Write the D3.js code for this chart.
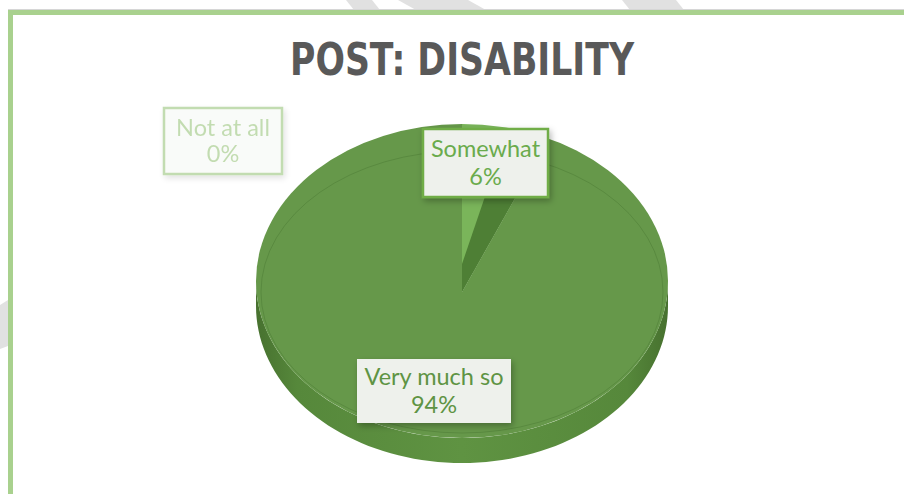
<!DOCTYPE html>
<html>
<head>
<meta charset="utf-8">
<script src="https://cdn.jsdelivr.net/npm/d3@7"></script>
<style>
  html, body { margin: 0; padding: 0; background: #ffffff; }
  svg { display: block; }
</style>
</head>
<body>
<svg id="chart" width="904" height="494"></svg>
<script>
// Survey answers for "POST: DISABILITY"
const categories = ["Not at all", "Somewhat", "Very much so"];
const values = [0, 6, 94];
const chartTitle = "POST: DISABILITY";

const W = 904, H = 494;
const svg = d3.select("#chart");
const defs = svg.append("defs");

// Faint grey diagonal bands behind the frame
const bandColor = "#e1e1e1";
[
  [[346, 0], [372, 0], [380, 10], [354, 10]],
  [[398, 0], [468, 0], [486, 10], [416, 10]],
  [[622, 0], [676, 0], [684, 10], [630, 10]],
  [[0, 305], [8, 300], [8, 346], [0, 349]]
].forEach(p => svg.append("polygon")
  .attr("points", p.map(d => d.join(",")).join(" "))
  .attr("fill", bandColor));

// Frame: thin grey rule, then green border on top and left
svg.append("line").attr("x1", 8).attr("x2", W).attr("y1", 9.5).attr("y2", 9.5)
  .attr("stroke", "#d6d6d6").attr("stroke-width", 1);
svg.append("rect").attr("x", 13).attr("y", 15).attr("width", W - 13).attr("height", H - 15)
  .attr("fill", "#ffffff");
svg.append("path")
  .attr("d", `M10.5,${H} L10.5,12.5 L${W},12.5`)
  .attr("fill", "none").attr("stroke", "#a9d18e").attr("stroke-width", 5);

// Title
svg.append("text")
  .attr("x", 462).attr("y", 75)
  .attr("text-anchor", "middle")
  .attr("font-family", "'Liberation Sans Narrow', 'DejaVu Sans Condensed', 'Liberation Sans', sans-serif")
  .attr("font-weight", "bold")
  .attr("font-size", 44)
  .attr("fill", "#595959")
  .attr("textLength", 344)
  .attr("lengthAdjust", "spacingAndGlyphs")
  .text(chartTitle);

// ---- 3D pie geometry ----
const hub = { x: 462, y: 292 };                 // centre of the slices
const inner = { cx: 462, cy: 292, rx: 201, ry: 141 };   // reference rim for angles
const outer = { cx: 462, cy: 281, rx: 206, ry: 157 };   // visible top outline
const depth = 25;

const sliceColors = ["#9bc97f", "#7ab55a", "#66984a"];
const faceColor = "#4e7f35";

const pie = d3.pie().sort(null).value(d => d).startAngle(0).endAngle(2 * Math.PI);
const arcs = pie(values);

// Point on an ellipse at angle a (clockwise from 12 o'clock)
const rimPt = (e, a, k = 1) => [e.cx + k * e.rx * Math.sin(a), e.cy - k * e.ry * Math.cos(a)];

// Clip for the top surface
defs.append("clipPath").attr("id", "topClip")
  .append("ellipse")
  .attr("cx", outer.cx).attr("cy", outer.cy).attr("rx", outer.rx).attr("ry", outer.ry);

// Side wall gradient
const sideGrad = defs.append("linearGradient").attr("id", "sideGrad")
  .attr("x1", "0").attr("x2", "1").attr("y1", "0").attr("y2", "0");
[[0, "#47712f"], [0.1, "#56883b"], [0.5, "#5f9342"], [0.9, "#56883b"], [1, "#47712f"]]
  .forEach(([o, c]) => sideGrad.append("stop").attr("offset", o).attr("stop-color", c));

// Side walls: only the front half (angles between 90° and 270°) is visible
const g = svg.append("g");
arcs.forEach((a, i) => {
  const lo = Math.max(a.startAngle, Math.PI / 2);
  const hi = Math.min(a.endAngle, 3 * Math.PI / 2);
  if (hi <= lo) return;
  const steps = 80;
  const top = d3.range(steps + 1).map(s => rimPt(outer, lo + (hi - lo) * s / steps));
  const bottom = top.map(([x, y]) => [x, y + depth]).reverse();
  g.append("path")
    .attr("d", d3.line()(top.concat(bottom)) + "Z")
    .attr("fill", "url(#sideGrad)");
});

// Top surfaces of the slices
const topG = g.append("g").attr("clip-path", "url(#topClip)");
arcs.forEach((a, i) => {
  if (a.endAngle - a.startAngle <= 0) return;
  const steps = Math.max(4, Math.ceil((a.endAngle - a.startAngle) / 0.02));
  const pts = [[hub.x, hub.y]];
  for (let s = 0; s <= steps; s++) {
    const ang = a.startAngle + (a.endAngle - a.startAngle) * s / steps;
    const [px, py] = rimPt(inner, ang);
    pts.push([hub.x + (px - hub.x) * 1.6, hub.y + (py - hub.y) * 1.6]);
  }
  topG.append("path")
    .attr("d", d3.line()(pts) + "Z")
    .attr("fill", sliceColors[i]);
});

// Cut face of the raised small slice along its trailing edge
arcs.forEach((a, i) => {
  const span = a.endAngle - a.startAngle;
  if (span <= 0 || span > Math.PI / 2) return;
  const mid = rimPt(inner, a.startAngle + span / 2);
  const end = rimPt(inner, a.endAngle);
  const base = [hub.x, hub.y - 28];
  const ext = (p, from) => [from[0] + (p[0] - from[0]) * 1.5, from[1] + (p[1] - from[1]) * 1.5];
  const face = [[hub.x, hub.y], base, ext(mid, base), ext(end, [hub.x, hub.y])];
  topG.append("path")
    .attr("d", d3.line()(face) + "Z")
    .attr("fill", faceColor);
});

// Thin inner rim line of the top surface
g.append("ellipse")
  .attr("cx", inner.cx).attr("cy", inner.cy).attr("rx", inner.rx).attr("ry", inner.ry)
  .attr("fill", "none").attr("stroke", "#4f7d36").attr("stroke-opacity", 0.55).attr("stroke-width", 1);

// ---- Data labels ----
const shadow = defs.append("filter").attr("id", "lblShadow")
  .attr("x", "-20%").attr("y", "-20%").attr("width", "150%").attr("height", "160%");
shadow.append("feDropShadow").attr("dx", 2).attr("dy", 3).attr("stdDeviation", 3)
  .attr("flood-color", "#000").attr("flood-opacity", 0.28);

const labelBoxes = [
  { x: 164, y: 108, w: 118, h: 66, border: "#70ad47", text: "#70ad47", fill: "#f3f6f1", opacity: 0.42, lh: 26 },
  { x: 423, y: 129, w: 125, h: 68, border: "#70ad47", text: "#6aab4c", fill: "#eef1ec", opacity: 1, lh: 28 },
  { x: 357, y: 359, w: 154, h: 64, border: "none", text: "#5e9444", fill: "#eef1ec", opacity: 1, lh: 28 }
];

const labelFont = "'Lato', 'Open Sans', 'Noto Sans', sans-serif";
arcs.forEach((a, i) => {
  const b = labelBoxes[i];
  const lg = svg.append("g").attr("opacity", b.opacity);
  lg.append("rect")
    .attr("x", b.x).attr("y", b.y).attr("width", b.w).attr("height", b.h)
    .attr("fill", b.fill)
    .attr("stroke", b.border).attr("stroke-width", b.border === "none" ? 0 : 2.5)
    .attr("filter", "url(#lblShadow)");
  const t = lg.append("text")
    .attr("text-anchor", "middle")
    .attr("font-family", labelFont)
    .attr("font-size", 23.5)
    .attr("fill", b.text);
  const midY = b.y + b.h / 2;
  t.append("tspan").attr("x", b.x + b.w / 2).attr("y", midY - b.lh / 2 + 8).text(categories[i]);
  t.append("tspan").attr("x", b.x + b.w / 2).attr("y", midY + b.lh / 2 + 8).text(a.data + "%");
});
</script>
</body>
</html>
